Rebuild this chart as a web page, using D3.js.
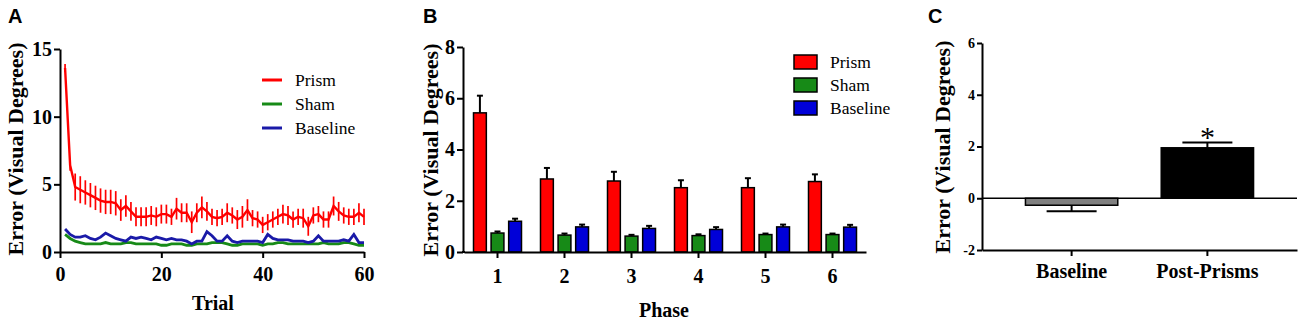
<!DOCTYPE html>
<html>
<head>
<meta charset="utf-8">
<script src="https://cdn.jsdelivr.net/npm/d3@7"></script>
<style>
body { margin: 0; background: #fff; }
svg { display: block; }
.ax path, .ax line { stroke: #000; stroke-width: 2; }
.ax text { font-family: "Liberation Serif", serif; font-weight: bold; font-size: 20px; fill: #000; }
.axs text { font-size: 14px; }
.lab { font-family: "Liberation Serif", serif; font-weight: bold; font-size: 20px; }
.ylab { font-family: "Liberation Serif", serif; font-weight: bold; font-size: 22px; }
.panel { font-family: "Liberation Sans", Arial, sans-serif; font-weight: bold; font-size: 20px; }
.leg { font-family: "Liberation Serif", serif; font-size: 17.5px; }
</style>
</head>
<body>
<svg width="1300" height="321"></svg>
<script>
// panel A: error per trial
const prismTrial = [13.6, 6.4, 4.8, 4.6, 4.4, 4.2, 4.0, 3.8, 3.7, 3.7, 3.6, 3.1, 3.4, 3.0, 2.6, 2.6, 2.6, 2.7, 2.6, 2.8,
    2.8, 2.6, 3.2, 2.9, 2.9, 2.2, 2.9, 3.3, 3.0, 2.6, 2.5, 2.6, 2.9, 2.7, 2.4, 2.6, 3.1, 2.5, 2.4, 2.0,
    2.2, 2.4, 2.6, 2.8, 2.7, 2.4, 2.6, 2.5, 1.9, 2.7, 2.8, 2.4, 2.4, 3.4, 3.0, 2.7, 2.6, 2.6, 2.9, 2.6];
const prismTrialSem = [0.3, 0.4, 1.0, 1.0, 0.9, 0.9, 0.9, 0.9, 0.9, 0.9, 0.9, 0.8, 0.8, 0.7, 0.7, 0.7, 0.7, 0.7, 0.7, 0.7,
    0.7, 0.6, 0.8, 0.7, 0.7, 0.8, 0.7, 0.8, 0.7, 0.6, 0.6, 0.6, 0.7, 0.6, 0.7, 0.8, 0.8, 0.6, 0.6, 0.6,
    0.6, 0.6, 0.6, 0.7, 0.7, 0.6, 0.6, 0.7, 0.7, 0.6, 0.6, 0.6, 0.6, 0.7, 0.7, 0.6, 0.6, 0.6, 0.7, 0.6];
const shamTrial = [1.3, 1.0, 0.8, 0.7, 0.6, 0.6, 0.6, 0.6, 0.7, 0.6, 0.6, 0.6, 0.7, 0.7, 0.6, 0.6, 0.6, 0.6, 0.6, 0.5,
    0.5, 0.6, 0.6, 0.6, 0.5, 0.5, 0.6, 0.6, 0.6, 0.7, 0.7, 0.7, 0.6, 0.5, 0.5, 0.6, 0.6, 0.6, 0.6, 0.5,
    0.6, 0.6, 0.7, 0.7, 0.6, 0.6, 0.6, 0.6, 0.6, 0.6, 0.6, 0.7, 0.6, 0.6, 0.6, 0.7, 0.7, 0.6, 0.5, 0.5];
const baseTrial = [1.7, 1.3, 1.1, 1.1, 1.2, 1.0, 0.9, 1.1, 1.4, 1.2, 1.0, 0.9, 0.8, 1.1, 1.0, 1.1, 1.0, 0.9, 1.1, 1.0,
    0.9, 1.0, 0.9, 0.9, 0.8, 0.6, 0.8, 0.8, 1.5, 1.2, 0.8, 0.8, 1.2, 0.8, 0.7, 0.8, 0.8, 0.8, 0.8, 0.7,
    1.3, 1.0, 0.9, 0.9, 0.9, 0.8, 0.8, 0.8, 0.7, 0.8, 1.2, 0.8, 0.8, 0.8, 0.8, 0.9, 0.8, 1.3, 0.7, 0.7];

// panel B: mean error per phase
const phases = ['1', '2', '3', '4', '5', '6'];
const prismPhase = [5.43, 2.85, 2.77, 2.51, 2.51, 2.75];
const prismPhaseSem = [0.67, 0.43, 0.36, 0.29, 0.37, 0.28];
const shamPhase = [0.74, 0.66, 0.62, 0.64, 0.68, 0.68];
const shamPhaseSem = [0.06, 0.06, 0.05, 0.05, 0.04, 0.04];
const basePhase = [1.2, 0.98, 0.92, 0.88, 0.98, 0.97];
const basePhaseSem = [0.1, 0.09, 0.1, 0.09, 0.09, 0.09];

// panel C
const shiftGroups = ['Baseline', 'Post-Prisms'];
const shiftMean = [-0.27, 1.95];
const shiftSem = [0.23, 0.2];

const seriesNames = ['Prism', 'Sham', 'Baseline'];
const lineColours = ['#ff0000', '#178a17', '#1a1aa8'];
const barColours = ['#ff0000', '#178a17', '#0000d8'];

const svg = d3.select('svg');

// ---------- A ----------
const xA = d3.scaleLinear().domain([0, 60]).range([60, 364]);
const yA = d3.scaleLinear().domain([0, 15]).range([252, 49]);

svg.append('g').attr('class', 'ax')
    .attr('transform', 'translate(0,252)')
    .call(d3.axisBottom(xA).tickValues([0, 20, 40, 60]).tickSize(6).tickSizeOuter(0).tickPadding(9));
svg.append('g').attr('class', 'ax')
    .attr('transform', 'translate(60,0)')
    .call(d3.axisLeft(yA).tickValues([0, 5, 10, 15]).tickSize(6).tickSizeOuter(0).tickPadding(2));

const trialSeries = [
    { vals: prismTrial, sem: prismTrialSem, c: lineColours[0], w: 2.4 },
    { vals: shamTrial, sem: null, c: lineColours[1], w: 2.8 },
    { vals: baseTrial, sem: null, c: lineColours[2], w: 2.8 },
];
[trialSeries[1], trialSeries[2], trialSeries[0]].forEach(s => {
    const pts = s.vals.map((v, i) => ({ t: i + 1, v: v, e: s.sem ? s.sem[i] : 0 }));
    svg.append('g').selectAll('line')
        .data(pts.filter(d => d.e > 0))
        .enter().append('line')
        .attr('x1', d => xA(d.t)).attr('x2', d => xA(d.t))
        .attr('y1', d => yA(d.v - d.e)).attr('y2', d => yA(d.v + d.e))
        .attr('stroke', s.c).attr('stroke-width', 1.7);
    svg.append('path').datum(pts)
        .attr('d', d3.line().x(d => xA(d.t)).y(d => yA(d.v)))
        .attr('fill', 'none').attr('stroke', s.c).attr('stroke-width', s.w);
});

const legA = svg.append('g').attr('transform', 'translate(262,80)');
seriesNames.forEach((n, i) => {
    const row = legA.append('g').attr('transform', `translate(0,${i * 24})`);
    row.append('line').attr('x1', 0).attr('x2', 20).attr('stroke', lineColours[i]).attr('stroke-width', 3);
    row.append('text').attr('class', 'leg').attr('x', 33).attr('y', 6).text(n);
});

svg.append('text').attr('class', 'lab').attr('text-anchor', 'middle')
    .attr('x', 213).attr('y', 310).text('Trial');
svg.append('text').attr('class', 'ylab').attr('text-anchor', 'middle')
    .attr('transform', 'translate(23,149) rotate(-90)').text('Error (Visual Degrees)');
svg.append('text').attr('class', 'panel').attr('x', 8).attr('y', 23).text('A');

// ---------- B ----------
const xB = d3.scaleBand().domain(phases).range([464, 866]);
const xSub = d3.scaleBand().domain(seriesNames).range([0, 48]).paddingInner(0.27);
const yB = d3.scaleLinear().domain([0, 8]).range([252, 47]);
const subOffset = xB.bandwidth() / 2 - 24;

const phaseSeries = [
    { vals: prismPhase, sem: prismPhaseSem },
    { vals: shamPhase, sem: shamPhaseSem },
    { vals: basePhase, sem: basePhaseSem },
];
phaseSeries.forEach((s, k) => {
    const g = svg.append('g');
    const data = phases.map((p, i) => ({ p: p, v: s.vals[i], e: s.sem[i] }));
    const cx = d => xB(d.p) + subOffset + xSub(seriesNames[k]) + xSub.bandwidth() / 2;
    g.selectAll('line.err').data(data).enter().append('line')
        .attr('x1', cx).attr('x2', cx)
        .attr('y1', d => yB(d.v)).attr('y2', d => yB(d.v + d.e))
        .attr('stroke', '#000').attr('stroke-width', 2);
    g.selectAll('line.cap').data(data).enter().append('line')
        .attr('x1', d => cx(d) - 3).attr('x2', d => cx(d) + 3)
        .attr('y1', d => yB(d.v + d.e)).attr('y2', d => yB(d.v + d.e))
        .attr('stroke', '#000').attr('stroke-width', 2);
    g.selectAll('rect').data(data).enter().append('rect')
        .attr('x', d => xB(d.p) + subOffset + xSub(seriesNames[k]))
        .attr('y', d => yB(d.v))
        .attr('width', xSub.bandwidth())
        .attr('height', d => yB(0) - yB(d.v))
        .attr('fill', barColours[k]).attr('stroke', '#000').attr('stroke-width', 1.5);
});

svg.append('g').attr('class', 'ax')
    .attr('transform', 'translate(0,252)')
    .call(d3.axisBottom(xB).tickSize(6).tickSizeOuter(0).tickPadding(11));
svg.append('line').attr('x1', 462).attr('x2', 465).attr('y1', 252).attr('y2', 252)
    .attr('stroke', '#000').attr('stroke-width', 2);
svg.append('g').attr('class', 'ax')
    .attr('transform', 'translate(463,0)')
    .call(d3.axisLeft(yB).tickValues([0, 2, 4, 6, 8]).tickSize(6).tickSizeOuter(0).tickPadding(2));

const legB = svg.append('g').attr('transform', 'translate(794,62)');
seriesNames.forEach((n, i) => {
    const row = legB.append('g').attr('transform', `translate(0,${i * 23})`);
    row.append('rect').attr('x', 0).attr('y', -7).attr('width', 23).attr('height', 14)
        .attr('fill', barColours[i]).attr('stroke', '#000').attr('stroke-width', 1.5);
    row.append('text').attr('class', 'leg').attr('x', 36).attr('y', 6).text(n);
});

svg.append('text').attr('class', 'lab').attr('text-anchor', 'middle')
    .attr('x', 664).attr('y', 317).text('Phase');
svg.append('text').attr('class', 'ylab').attr('text-anchor', 'middle')
    .attr('transform', 'translate(438,150) rotate(-90)').text('Error (Visual Degrees)');
svg.append('text').attr('class', 'panel').attr('x', 423).attr('y', 23).text('B');

// ---------- C ----------
const xC = d3.scaleBand().domain(shiftGroups).range([982, 1297]).padding(0.32);
const yC = d3.scaleLinear().domain([-2, 6]).range([250, 43]);
const cData = shiftGroups.map((g, i) => ({ g: g, v: shiftMean[i], e: shiftSem[i] }));
const cCol = ['#808080', '#000'];
const ccx = d => xC(d.g) + xC.bandwidth() / 2;
const errEnd = d => d.v < 0 ? d.v - d.e : d.v + d.e;

const gC = svg.append('g');
gC.selectAll('line.err').data(cData).enter().append('line')
    .attr('x1', ccx).attr('x2', ccx)
    .attr('y1', d => yC(d.v)).attr('y2', d => yC(errEnd(d)))
    .attr('stroke', '#000').attr('stroke-width', 2);
gC.selectAll('line.cap').data(cData).enter().append('line')
    .attr('x1', d => ccx(d) - 25).attr('x2', d => ccx(d) + 25)
    .attr('y1', d => yC(errEnd(d))).attr('y2', d => yC(errEnd(d)))
    .attr('stroke', '#000').attr('stroke-width', 2);
gC.selectAll('rect').data(cData).enter().append('rect')
    .attr('x', d => xC(d.g))
    .attr('y', d => yC(Math.max(0, d.v)))
    .attr('width', xC.bandwidth())
    .attr('height', d => Math.abs(yC(d.v) - yC(0)))
    .attr('fill', (d, i) => cCol[i]).attr('stroke', '#000').attr('stroke-width', 1.5);

svg.append('line').attr('x1', 982).attr('x2', 1297)
    .attr('y1', yC(0)).attr('y2', yC(0)).attr('stroke', '#000').attr('stroke-width', 1.5);
svg.append('g').attr('class', 'ax')
    .attr('transform', 'translate(0,250)')
    .call(d3.axisBottom(xC).tickSize(6).tickSizeOuter(0).tickPadding(8));
svg.append('g').attr('class', 'ax axs')
    .attr('transform', 'translate(982,0)')
    .call(d3.axisLeft(yC).tickValues([-2, 0, 2, 4, 6]).tickFormat(d => String(d))
        .tickSize(5).tickSizeOuter(0).tickPadding(2));

svg.append('text').attr('text-anchor', 'middle')
    .style('font-family', '"Liberation Serif", serif').style('font-size', '30px')
    .attr('x', ccx(cData[1])).attr('y', yC(errEnd(cData[1])) + 4).text('*');
svg.append('text').attr('class', 'ylab').attr('text-anchor', 'middle')
    .attr('transform', 'translate(950,147) rotate(-90)').text('Error (Visual Degrees)');
svg.append('text').attr('class', 'panel').attr('x', 928).attr('y', 23).text('C');
</script>
</body>
</html>
